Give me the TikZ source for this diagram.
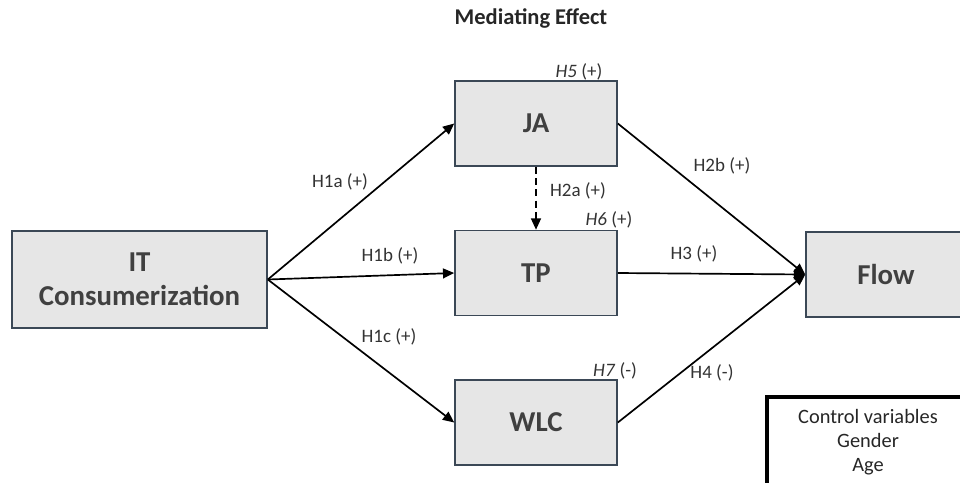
\documentclass[tikz,border=0pt]{standalone}
\usepackage{fontspec}
\setmainfont{Carlito}
\usetikzlibrary{arrows.meta}
\definecolor{boxfill}{HTML}{E6E6E6}
\definecolor{boxline}{HTML}{3B4856}
\definecolor{boxtext}{HTML}{404040}
\tikzset{
  construct/.style={draw=boxline, fill=boxfill, line width=1.1pt, text=boxtext,
    font=\fontsize{20.5}{24.5}\selectfont\bfseries, align=center, inner sep=0pt,
    minimum width=4.05cm, minimum height=2.125cm},
  hyp/.style={-{Triangle[length=8pt,width=7pt]}, line width=1.2pt, black},
  hlabel/.style={font=\fontsize{13.5}{15}\selectfont, text=black!80, inner sep=0pt}
}
\begin{document}
\begin{tikzpicture}[x=0.025cm,y=-0.025cm]
  \useasboundingbox (0,0) rectangle (960,482);
  \node[font=\fontsize{16}{19}\selectfont\bfseries, text=black!85] (title) at (531,18) {Mediating Effect};
  % constructs
  \node[construct, minimum width=6.375cm, minimum height=2.425cm] (IT) at (139.5,279.5) {IT\\Consumerization};
  \node[construct] (JA) at (536,123.5) {JA};
  \node[construct] (TP) at (536,273) {TP};
  \node[construct] (WLC) at (536,422.5) {WLC};
  \node[construct, minimum width=4cm] (Flow) at (886,274.5) {Flow};
  % paths
  \draw[hyp] (IT.east) -- (JA.west);
  \draw[hyp] (IT.east) -- (TP.west);
  \draw[hyp] (IT.east) -- (WLC.west);
  \draw[hyp] (JA.east) -- (Flow.west);
  \draw[hyp] (TP.east) -- (Flow.west);
  \draw[hyp] (WLC.east) -- (Flow.west);
  \draw[hyp, dash pattern=on 5pt off 3pt] (JA.south) -- (TP.north);
  % hypotheses
  \node[hlabel] (hOneA) at (340,182) {H1a (+)};
  \node[hlabel] (hOneB) at (390,256) {H1b (+)};
  \node[hlabel] (hOneC) at (389,337) {H1c (+)};
  \node[hlabel] (hTwoA) at (578,191) {H2a (+)};
  \node[hlabel] (hTwoB) at (722,166) {H2b (+)};
  \node[hlabel] (hThree) at (694,254) {H3 (+)};
  \node[hlabel] (hFour) at (712,373) {H4 (-)};
  \node[hlabel] (hFive) at (579,72) {\textit{H5} (+)};
  \node[hlabel] (hSix) at (609,220) {\textit{H6} (+)};
  \node[hlabel] (hSeven) at (615,371) {\textit{H7} (-)};
  % controls
  \draw[line width=2.2pt] (767,397) rectangle (975,500);
  \node[font=\fontsize{14.5}{17}\selectfont, text=black!85, align=center] (controls) at (868,442) {Control variables\\Gender\\Age};
\end{tikzpicture}
\end{document}
